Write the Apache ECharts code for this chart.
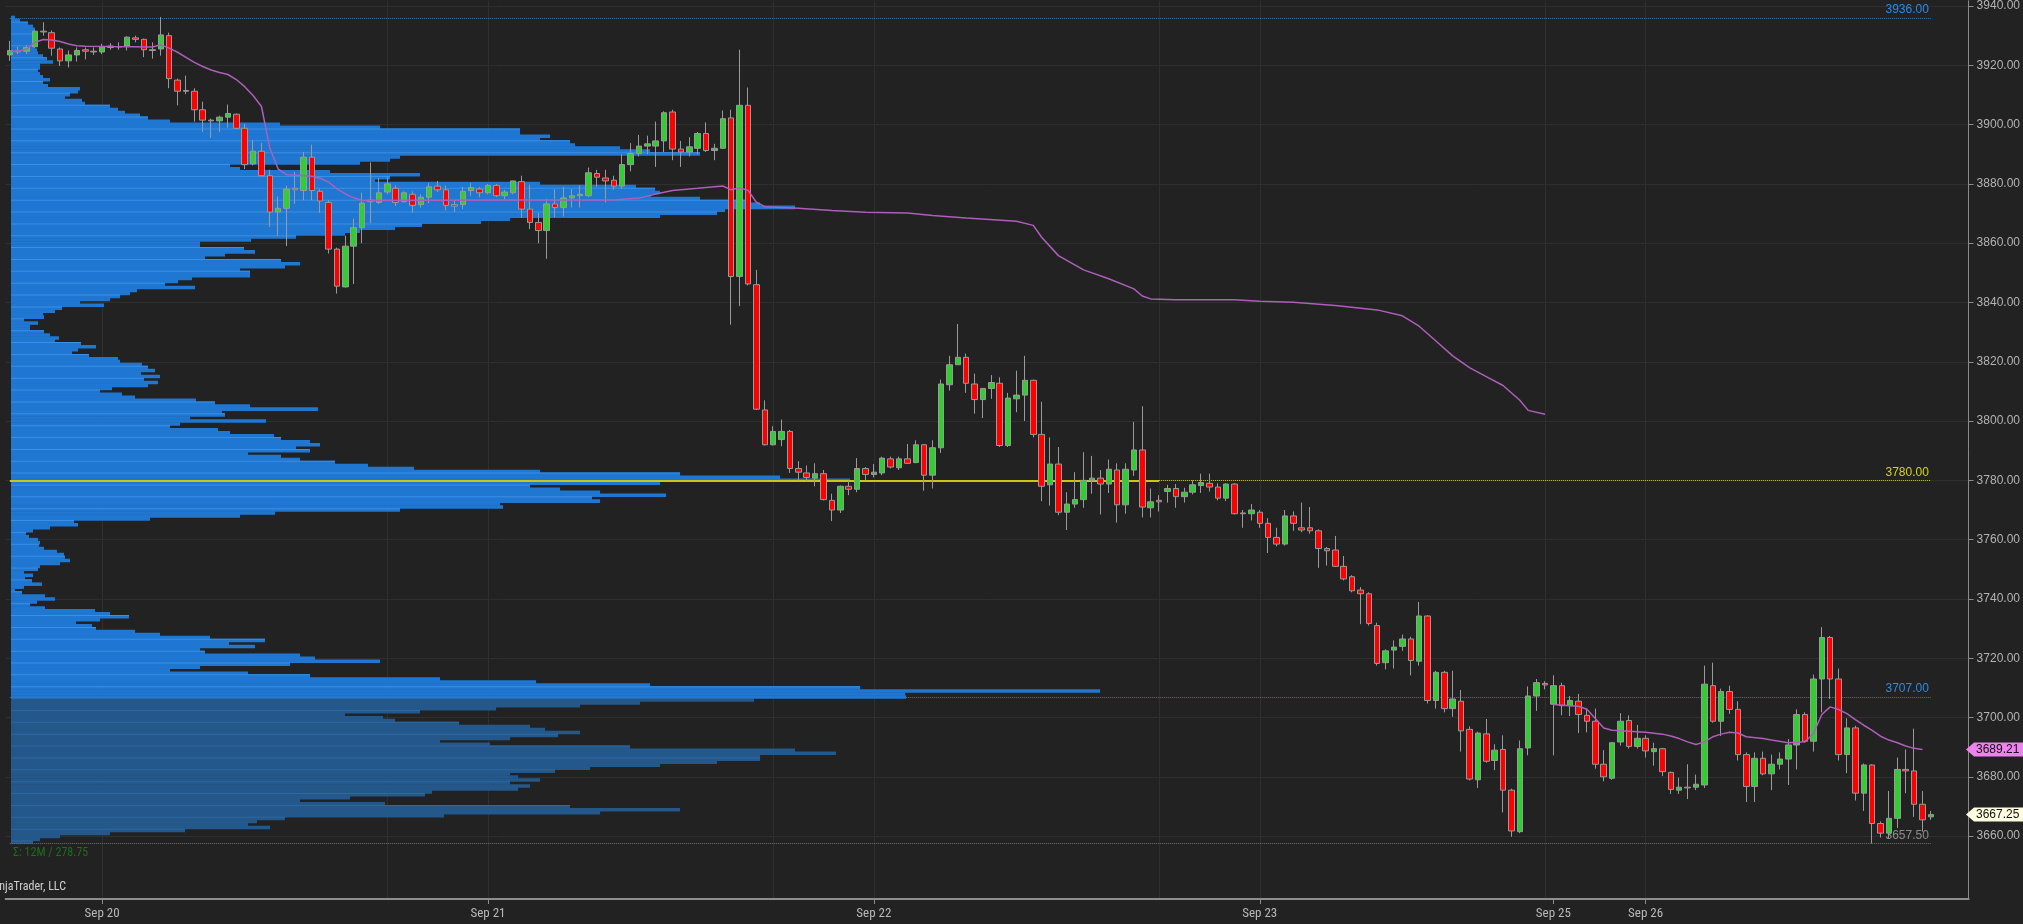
<!DOCTYPE html>
<html>
<head>
<meta charset="utf-8">
<script src="https://cdn.jsdelivr.net/npm/echarts@6/dist/echarts.min.js"></script>
<style>
html,body{margin:0;padding:0;background:#222222;overflow:hidden;}
#chart{width:2023px;height:924px;}
</style>
</head>
<body>
<div id="chart"></div>
<script>
// ---------------- DATA ----------------
// 30-minute ES bars, [open, high, low, close], one array per session
const sessionSep20 = [
[3923.5,3928.25,3921.5,3925],[3924.5,3926.25,3923.75,3924.75],[3924.75,3926.75,3923.75,3926],[3926.25,3931.75,3926,3931.5],
[3931.5,3934.5,3930,3931.25],[3931,3931.75,3923.25,3925.75],[3925.5,3926,3919.75,3921.5],[3921.5,3925,3919.25,3923.5],
[3923.5,3926,3921.25,3925],[3925.25,3926,3922,3924.75],[3924.5,3926,3923.5,3924.75],[3924.5,3927.25,3923.75,3926.25],
[3926,3927.5,3925.25,3926.5],[3926.25,3927.75,3925.25,3926.25],[3926.5,3929.75,3925,3929.5],[3929.25,3930,3927.75,3928.75],
[3928.75,3929,3922.75,3925.25],[3925,3927.75,3922.25,3925.25],[3925.5,3936.25,3923.25,3930.25],[3930,3931,3912.25,3915.5],
[3915,3915.5,3906.5,3911.25],[3911.25,3916.5,3910.25,3911.5],[3911.25,3912.25,3901,3905],[3905,3907.75,3897.5,3901.5],
[3901.5,3902,3895.5,3901.25],[3901.25,3903,3897.5,3902.5],[3902.5,3906.75,3899,3903.75],[3903.5,3903.75,3898.5,3898.75],
[3898.75,3900.25,3885,3886.5],[3886.75,3894.75,3886.25,3891],[3891,3893.75,3882.5,3882.75],[3882.75,3884.75,3865.5,3870.5],
[3870.5,3875.75,3862.5,3871.75],[3871.75,3879.5,3859,3878.25],[3878.5,3884,3873.25,3878],[3877.75,3890.75,3874.5,3889],
[3889,3893.25,3874.5,3877.75],[3877.5,3878.25,3870.25,3874.25],[3873.75,3874.5,3856.5,3858],[3858,3858.5,3843,3845.5],
[3845.25,3862.5,3845,3859],[3859,3868.25,3846.25,3865.25],[3865.25,3877,3860,3873.5],[3874.5,3887.25,3866.75,3874],
[3873.75,3882,3873.25,3877],[3877.25,3882.25,3876.5,3880]
];
const sessionSep21 = [
[3878.5,3879.5,3872.5,3873.75],[3874,3877.5,3873.75,3877],[3876.5,3877.5,3870.25,3872.75],[3873,3876.5,3872,3875.5],
[3875.5,3880.25,3873.5,3879],[3879.25,3881,3877.25,3878],[3878,3879.5,3871,3872.75],[3873,3874.5,3870.5,3872.5],
[3873,3879,3871.5,3877.5],[3877.75,3880.25,3876,3878.75],[3878.25,3879,3875.5,3877],[3877,3880,3876.5,3879.5],
[3879.5,3880,3875.5,3876],[3876,3878,3874.75,3877.25],[3877,3881,3876.5,3881],[3880.75,3882.75,3868.5,3871.5],
[3871.5,3879.75,3864.75,3867],[3867,3870.25,3860,3864.25],[3864.25,3875,3854.75,3873.25],[3873.25,3878.25,3868.75,3872],
[3872,3879,3869,3875.25],[3875.25,3878.25,3872,3876],[3876,3879.5,3872,3876.5],[3876,3885.5,3875.5,3883.75],
[3883.5,3884.75,3879,3882.25],[3882,3884.75,3873.75,3881],[3881.25,3882.75,3878,3879.25],[3879.25,3890,3878.25,3886.5],
[3886.5,3893.75,3884.25,3890.25],[3890.25,3896.5,3889.25,3892.75],[3892.75,3896.25,3890,3893.5],[3892.75,3901,3885.75,3894.5],
[3894.5,3904.5,3890.75,3904],[3904.25,3905,3888,3891.75],[3891.75,3894.5,3885.75,3890.75],[3890.75,3895.75,3889.25,3892.5],
[3892,3897.5,3890,3897],[3897,3900.75,3890.75,3891.25],[3891.25,3893.5,3888,3892],[3892,3904.75,3891.75,3902],
[3902.25,3905,3832.5,3848.75],[3848.75,3925.25,3838.75,3906.5],[3906.5,3912.5,3845.75,3846.25],[3846,3851,3803.75,3804],
[3803.75,3807,3791.75,3792],[3792,3798.25,3791.75,3796.5]
];
const sessionSep22 = [
[3793.75,3800.5,3791.5,3796.5],[3796.5,3797,3782.5,3784],[3784,3786.5,3780,3782.75],[3782.5,3785,3779.75,3781],
[3780.75,3785.75,3778,3782.25],[3782.25,3783.5,3773.25,3773.5],[3773.25,3775.5,3766.25,3770],[3770,3778.25,3769,3778],
[3778,3780,3775,3777],[3777,3787.5,3776,3784],[3784,3784.5,3780,3782],[3782,3785.5,3781,3782.75],
[3782.5,3788,3781.75,3787.5],[3787.25,3788,3784,3784.5],[3784.25,3788,3783.5,3787.25],[3787.25,3792.25,3785.5,3785.75],
[3786,3793.5,3785.75,3792],[3792,3792.25,3776.5,3781.75],[3781.75,3793.5,3777.25,3791],[3791,3814,3789.25,3812.5],
[3812.25,3822,3810.25,3819],[3819,3832.75,3819,3821.5],[3821.5,3822.75,3809.5,3812.75],[3812.5,3816,3802.5,3807.25],
[3807.25,3811,3801,3811],[3811,3815.5,3807.5,3813],[3812.75,3814.75,3791.25,3791.75],[3791.75,3809.5,3791.25,3807.75],
[3807.5,3817,3803,3808.75],[3808.75,3822,3800,3813.75],[3813.75,3814,3794.5,3795.5],[3795.5,3806.5,3773,3778],
[3778.5,3794.5,3771.5,3785.5],[3785.5,3791.25,3768.25,3769.25],[3769.25,3776,3763.25,3772],[3772,3782.75,3770.75,3773.5],
[3773.5,3789.5,3770.75,3780],[3780,3788.25,3775.5,3780.75],[3780.75,3783.5,3768.5,3778.75],[3778.75,3787,3775.75,3783.75],
[3783.5,3785.75,3765.75,3771.75],[3771.75,3785.75,3768.75,3783.75],[3783.5,3799.75,3781.5,3790.25],[3790.25,3805,3767.5,3771],
[3770.75,3777.25,3767.5,3772.75],[3773.25,3775,3769.5,3772.75]
];
const sessionSep23 = [
[3776.25,3778.5,3772.5,3777.25],[3777.25,3778.75,3770.75,3774.5],[3774.5,3777.5,3772.5,3776],[3776,3780,3775.25,3778.5],
[3778.25,3782.25,3775.75,3779.25],[3779,3782.25,3776.25,3777.75],[3777.75,3779,3773.25,3774],[3774,3779,3773,3778.75],
[3778.75,3779,3768.5,3768.75],[3769,3770,3764,3768.75],[3768.75,3772,3766.5,3770],[3769.25,3770,3764,3765.5],
[3765.5,3767.25,3755.5,3760.75],[3760.75,3764,3757.75,3758.5],[3758.5,3770,3758,3768],[3768,3769.5,3763,3765.5],
[3764,3772.5,3762.5,3763.25],[3764,3771,3762,3763],[3763,3763.5,3750.5,3757],[3757,3757.5,3751.25,3756.25],
[3756.5,3761.25,3750.75,3751],[3751,3754.5,3746.25,3746.75],[3747.5,3748,3742.25,3742.75],[3743,3744,3731.5,3741.75],
[3741.75,3742.25,3731,3731.75],[3731,3732,3717.5,3718.25],[3718.5,3723,3716.25,3722.5],[3722.75,3726,3716.5,3723.75],
[3724,3728,3722.5,3726.5],[3726.5,3727.25,3714.25,3719.25],[3719,3739,3717.5,3734.25],[3734.25,3734.5,3704.75,3705.75],
[3705.75,3715.75,3703,3715.25],[3715.25,3715.75,3701.75,3703],[3703,3715.75,3700.25,3706.25],[3705.5,3709.25,3688.5,3695.5],
[3696,3697,3678.75,3679.25],[3679,3695.25,3676.25,3694.75],[3694.5,3699.5,3684.75,3685.25],[3685.5,3691,3682.25,3689],
[3689.25,3694,3668,3675.5],[3675.5,3676,3659.75,3661.75],[3661.5,3692.25,3661,3689.5],[3689.75,3710.5,3687.25,3707.25],
[3707.25,3713,3702.25,3711.75],[3711.5,3712.25,3709.5,3711]
];
const sessionSep26 = [
[3704.5,3714.25,3687.25,3710.75],[3710.75,3711.75,3700.75,3704],[3704,3707.25,3700.5,3705.75],[3705.5,3708,3694.75,3701],
[3700.75,3703,3695,3698.75],[3698.75,3703,3682.75,3684.25],[3684.25,3689,3678.5,3680],[3679.5,3691.75,3679,3691.5],
[3691.75,3701.5,3690.5,3698.75],[3699,3700.75,3689.5,3690.25],[3690.25,3697.5,3689.5,3693],[3693,3694,3686.5,3688.75],
[3688.5,3691.5,3683.75,3689.5],[3689.5,3689.75,3680.25,3681.75],[3681.5,3681.75,3674.25,3675.75],[3675.5,3679.75,3674.25,3676.5],
[3676.5,3684.25,3672.5,3676.25],[3676.5,3680.75,3675.5,3677.5],[3677.25,3717.5,3676.25,3711.25],[3710.75,3718.5,3698.25,3698.75],
[3698.75,3709.75,3693.75,3708.75],[3708.75,3710.75,3701.25,3702.75],[3702.75,3705.5,3685.5,3687.5],[3687.5,3688.25,3671.5,3676.75],
[3676.75,3688.25,3671.5,3686.25],[3686.25,3688.5,3680.5,3681],[3681,3687.5,3675.5,3684.25],[3684.25,3688.25,3682.5,3686],
[3686,3692.75,3677.25,3690.75],[3690.75,3702.75,3682.5,3701],[3701,3701.75,3691.5,3692],[3692,3714.5,3688.5,3713],
[3713,3730.5,3701.75,3727],[3727,3727.5,3706.25,3713],[3713,3716.5,3685.5,3687.5],[3687.5,3699.75,3681.25,3696.5],
[3696.5,3697.25,3672,3674.5],[3674.5,3684.5,3668.5,3684],[3684,3684.25,3657.5,3664.25],[3664.25,3665,3659.5,3661],
[3661,3675.25,3659.25,3666],[3666,3686.5,3662.75,3682.5],[3682.5,3689.25,3674.5,3682],[3682,3696.25,3666.5,3670.75],
[3670.75,3675.25,3661.5,3665.5],[3666.5,3668.5,3665.5,3667.25]
];

// VWAP readings: [bar index, price]
const vwapWeek1 = [
[0,3924.7],[1,3924.7],[2,3925.5],[3,3927.8],[4,3928.7],[5,3928.5],[6,3928],[7,3927.2],[8,3926.6],[9,3926.4],
[12,3926.3],[17,3926.2],[18,3926.9],[19,3925.8],[20,3924.4],[21,3922.7],[22,3921],[23,3919.6],[24,3918.4],[25,3917.6],
[26,3916.9],[27,3915.2],[28,3912.8],[29,3909.8],[30,3906.1],[31,3892],[32,3885],[33,3883.1],[35,3882.8],[36,3882.6],
[37,3881.9],[38,3880.6],[39,3878.3],[40,3876.6],[41,3875.3],[42,3874.4],[60,3874.6],[72,3874.6],[75,3875.2],[77,3876.6],
[79,3877.8],[82,3878.5],[85,3879.3],[86,3878],[87,3878.7],[88,3877.8],[89,3873.8],[90,3872.3],[94,3871.8],[98,3871],
[102,3870.4],[107,3870.2],[110,3869.3],[114,3868.5],[120,3867.4],[122,3866],[123,3862],[125,3855.8],[128,3851],[131,3848],
[134,3844.6],[135,3842.2],[136,3841.2],[139,3840.9],[146,3840.9],[149,3840.4],[153,3840.1],[158,3839],[163,3837.5],[166,3835.5],
[168,3832],[170,3827],[172,3822],[174,3818],[176,3815],[178,3812],[180,3807],[181,3803.6],[183,3802.3]
];
const vwapWeek2 = [
[184,3704.4],[186,3704],[187,3703.8],[188,3702.8],[189,3699.7],[190,3696.5],[191,3695.7],[193,3695.4],[195,3695],[197,3694.4],
[198,3693.8],[199,3692.9],[200,3691.8],[201,3690.9],[202,3691.8],[203,3693.5],[204,3694.4],[205,3695],[206,3694.8],[207,3693.5],
[209,3692.9],[210,3692.4],[212,3691.5],[214,3691.8],[215,3694.6],[216,3701],[217,3703.6],[218,3702.7],[219,3701.3],[220,3699.3],
[221,3697.4],[222,3695.7],[223,3693.7],[224,3692.4],[225,3691.5],[226,3690.4],[227,3689.6],[228,3689.21]
];

// Volume profile, one value per 1-point row from 3936 down to 3658
const profileTopPrice = 3936;
const profileVolume = [
4,9,17,22,24,24,26,27,26,25,
24,26,27,32,36,42,29,29,27,29,
32,39,32,37,69,67,59,54,71,74,
99,107,114,129,137,159,269,369,509,509,
539,529,559,564,609,639,689,389,379,349,
219,229,319,409,379,364,529,625,644,649,
640,689,739,749,784,714,706,649,499,470,
411,384,349,334,285,240,189,189,233,244,
214,194,270,289,274,229,239,239,181,167,
154,184,126,119,109,99,69,93,51,44,
32,33,13,27,19,19,33,39,48,44,
70,85,67,61,78,107,109,131,137,144,
130,149,133,147,137,101,89,111,124,185,
204,239,307,211,214,179,255,169,159,207,
219,263,270,299,309,285,299,237,270,289,
324,357,403,529,669,769,839,649,519,549,
589,655,581,589,489,492,389,264,229,139,
63,67,39,22,15,18,27,29,28,33,
46,53,54,59,49,29,27,13,22,14,
21,31,13,4,11,34,44,26,19,34,
84,99,118,89,65,81,85,124,149,199,
254,218,244,189,194,289,304,369,279,189,
159,237,299,429,525,639,849,1089,894,895,
743,629,569,485,409,334,372,384,448,519,
534,569,547,499,429,479,619,784,825,749,
749,706,649,579,544,499,507,529,499,519,
507,421,414,339,289,374,559,669,589,433,
274,246,237,259,174,99,49,29,22
];
const profileValueAreaSplit = 3707;   // rows at/above are bright, below darker
const profileScaleMax = 1963;

// Levels
const levelHigh = 3936.00;
const levelPoc = 3780.00;
const levelMid = 3707.00;
const levelLow = 3657.50;
const lastVwap = 3689.21;
const lastPrice = 3667.25;

// Axis ticks / labels
const priceTicks = [3660,3680,3700,3720,3740,3760,3780,3800,3820,3840,3860,3880,3900,3920,3940];
const dateLabelBars = [11,57,103,149,184,195];
const dateLabelTexts = ['Sep 20','Sep 21','Sep 22','Sep 23','Sep 25','Sep 26'];
const sessionLineBars = [11,45,57,91,103,137,149,183,195];
const futureSlots = 4;
const summaryText = 'Σ: 12M / 278.75';
const copyrightText = 'NinjaTrader, LLC';

// ---------------- BUILD ----------------
const bars = [].concat(sessionSep20, sessionSep21, sessionSep22, sessionSep23, sessionSep26);
function buildBarTimes(count){
  const out = [];
  let t = Date.UTC(2022, 8, 19, 18, 30);
  const p2 = n => String(n).padStart(2,'0');
  for (let k = 0; k < count; k++){
    const d = new Date(t);
    out.push((d.getUTCMonth()+1) + '/' + d.getUTCDate() + ' ' + p2(d.getUTCHours()) + ':' + p2(d.getUTCMinutes()));
    let n = t + 30*60000;
    const nd = new Date(n);
    if (nd.getUTCHours() === 17 && nd.getUTCMinutes() === 30){
      n += 60*60000;
      if (nd.getUTCDay() === 5) n += 2*24*3600000;
    }
    t = n;
  }
  return out;
}
const categories = buildBarTimes(bars.length + futureSlots);
const candleData = bars.map(b => [b[0], b[3], b[2], b[1]]);
const lastBar = bars.length - 1;

const Y_MIN = 3638.79, Y_MAX = 3941.79;
const FONT = '"Liberation Sans", Arial, sans-serif';
const NARROW = '"Liberation Sans Narrow", "Roboto Condensed", "Liberation Sans", Arial, sans-serif';
const isDateIdx = idx => dateLabelBars.indexOf(idx) >= 0;

const profileData = profileVolume.map((v, k) => [v, profileTopPrice - k]);

function levelSeg(y, x0, x1, color, type, width, text, labelColor){
  const ls = {color:color, type:type, width:width};
  const a = {coord:[categories[x0], y], lineStyle:ls};
  a.label = text ? {show:true, position:'insideEndTop', formatter:text, color:labelColor, fontSize:12, fontFamily:FONT, distance:2}
                 : {show:false};
  return [a, {coord:[categories[x1], y], lineStyle:ls}];
}

const chart = echarts.init(document.getElementById('chart'), null, {renderer:'canvas'});
const option = {
  backgroundColor:'#222222',
  animation:false,
  grid:[
    {left:5.6, right:48.8, top:0, bottom:25},
    {left:11, right:48.8, top:0, bottom:25}
  ],
  xAxis:[
    {type:'category', gridIndex:0, data:categories, boundaryGap:true,
     axisLine:{show:true, lineStyle:{color:'#8e8e8e', width:2}},
     axisTick:{show:true, alignWithLabel:true, interval:isDateIdx, length:5, lineStyle:{color:'#8e8e8e'}},
     axisLabel:{show:true, interval:isDateIdx, formatter:(v, i) => { const k = dateLabelBars.indexOf(i); return k >= 0 ? dateLabelTexts[k] : ''; },
       color:'#b9b9b9', fontSize:13, fontFamily:NARROW, margin:8},
     splitLine:{show:false}},
    {type:'value', gridIndex:1, min:0, max:profileScaleMax, show:false}
  ],
  yAxis:[
    {type:'value', gridIndex:0, position:'right', min:Y_MIN, max:Y_MAX,
     axisLine:{show:true, lineStyle:{color:'#8a8a8a', width:1}},
     axisTick:{show:true, customValues:priceTicks, length:5, lineStyle:{color:'#8a8a8a'}},
     axisLabel:{show:true, customValues:priceTicks, formatter:v => Number(v).toFixed(2), color:'#b3b3b3', fontSize:12, fontFamily:FONT, margin:8},
     splitLine:{show:false}},
    {type:'value', gridIndex:1, min:Y_MIN, max:Y_MAX, show:false}
  ],
  series:[
    { // grid lines
      type:'line', xAxisIndex:0, yAxisIndex:0, data:[], z:0, silent:true,
      markLine:{silent:true, z:0, symbol:['none','none'], label:{show:false}, animation:false,
        lineStyle:{color:'#2f2f2f', width:1, type:'solid'},
        data:[].concat(priceTicks.map(v => ({yAxis:v})), sessionLineBars.map(i => ({xAxis:categories[i]})))}
    },
    { // volume profile
      type:'custom', xAxisIndex:1, yAxisIndex:1, z:1, silent:true, clip:false,
      data:profileData,
      renderItem:function(params, api){
        const v = api.value(0), p = api.value(1);
        const a = api.coord([0, p + 0.5]);
        const b = api.coord([v, p - 0.5]);
        const bright = p >= profileValueAreaSplit;
        const children = [{type:'rect', shape:{x:a[0], y:a[1], width:b[0]-a[0], height:b[1]-a[1]+0.6},
          style:{fill: bright ? '#1f77d2' : '#24578a'}}];
        if ((p - 3658) % 4 === 0){
          children.push({type:'rect', shape:{x:a[0], y:a[1], width:b[0]-a[0], height:1},
            style:{fill: bright ? '#3a8fe6' : '#2c69a3'}});
        }
        return {type:'group', children:children};
      }
    },
    { // level lines
      type:'line', xAxisIndex:0, yAxisIndex:0, data:[], z:2, silent:true,
      markLine:{silent:true, z:2, symbol:['none','none'], animation:false,
        data:[
          levelSeg(levelHigh, 0, lastBar, '#2a7fd4', 'dotted', 1, levelHigh.toFixed(2), '#2d8ae6'),
          levelSeg(levelPoc, 0, 137, '#c8c814', 'solid', 2, null, null),
          levelSeg(levelPoc, 137, lastBar, '#c8c814', 'dotted', 1, levelPoc.toFixed(2), '#d4d410'),
          levelSeg(levelMid, 0, lastBar, '#2a7fd4', 'dotted', 1, levelMid.toFixed(2), '#2d8ae6'),
          levelSeg(levelLow, 0, lastBar, '#6f6f6f', 'dotted', 1, levelLow.toFixed(2), '#8c8c8c')
        ]}
    },
    {
      type:'candlestick', xAxisIndex:0, yAxisIndex:0, z:3, data:candleData, barWidth:6,
      itemStyle:{color:'#32cd32', color0:'#ff0000', borderColor:'#9a9a9a', borderColor0:'#9a9a9a', borderColorDoji:'#9a9a9a', borderWidth:1}
    },
    {
      type:'line', xAxisIndex:0, yAxisIndex:0, z:4, data:vwapWeek1, showSymbol:false, symbol:'none', smooth:false,
      lineStyle:{color:'#ad5fba', width:1.5}
    },
    {
      type:'line', xAxisIndex:0, yAxisIndex:0, z:4, data:vwapWeek2, showSymbol:false, symbol:'none', smooth:false,
      lineStyle:{color:'#ad5fba', width:1.5}
    }
  ]
};
chart.setOption(option);

// price tags on the axis and corner texts
function tag(value, fill){
  const y = chart.convertToPixel({yAxisIndex:0}, value);
  const x0 = 1966, h = 7;
  return [
    {type:'polygon', shape:{points:[[x0,y],[x0+8,y-h],[2023,y-h],[2023,y+h],[x0+8,y+h]]}, style:{fill:fill}, z:100},
    {type:'text', x:1976, y:y, style:{text:value.toFixed(2), fill:'#111', font:'12px ' + FONT, verticalAlign:'middle'}, z:101}
  ];
}
chart.setOption({
  graphic:[].concat(
    tag(lastVwap, '#ee82ee'),
    tag(lastPrice, '#fffde0'),
    [
      {type:'text', left:13, top:847, style:{text:summaryText, fill:'#1c6e1c', font:'12px ' + NARROW}},
      {type:'text', x:66, y:887, style:{text:copyrightText, fill:'#cfcfcf', font:'12px ' + NARROW, align:'right', verticalAlign:'middle'}}
    ]
  )
});
</script>
</body>
</html>
